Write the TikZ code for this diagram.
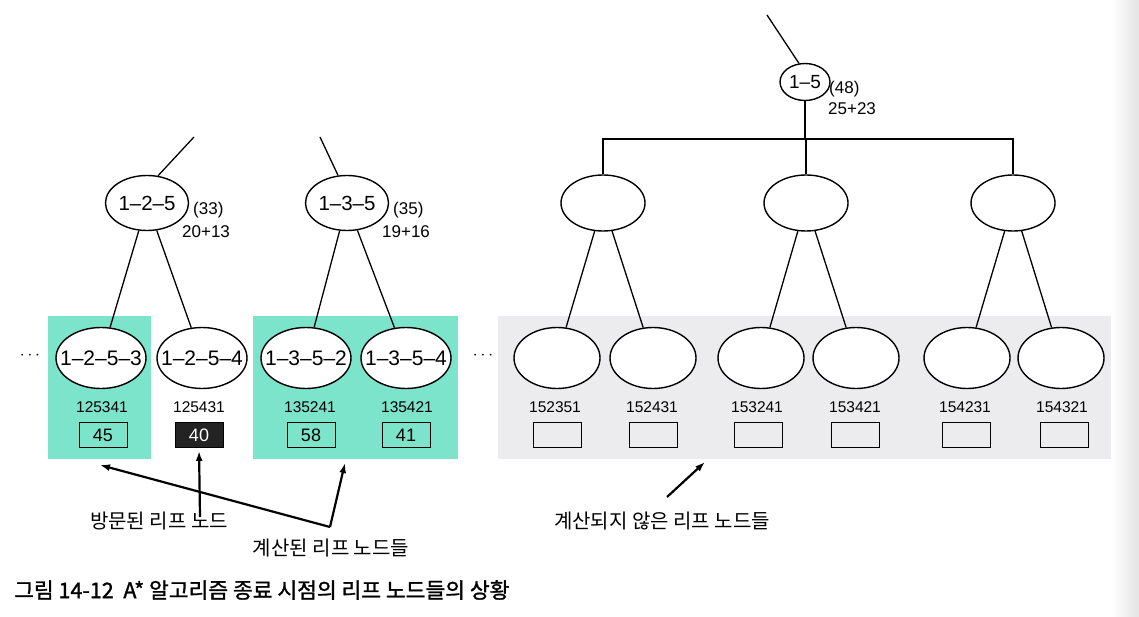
\documentclass[tikz,border=0pt]{standalone}
\usepackage{fontspec}
\setmainfont{Liberation Sans}
\newfontfamily\kr{Noto Sans CJK KR}
\newfontfamily\krb[FakeBold=1.3]{Noto Sans CJK KR}
\usetikzlibrary{shapes.geometric,arrows.meta}
\definecolor{tealbg}{RGB}{125,228,204}
\definecolor{greybg}{RGB}{236,236,239}
\definecolor{darkbox}{RGB}{35,35,35}
\newcommand\zb[1]{\makebox[0pt]{#1}}
\begin{document}
\begin{tikzpicture}[x=1pt,y=-1pt,
  ell/.style={ellipse,draw,line width=1.4pt,fill=white,inner sep=0pt},
  leaf/.style={ell,minimum width=90pt,minimum height=61pt,font=\fontsize{21}{21}\selectfont},
  mid/.style={ell,minimum width=83pt,minimum height=55pt,font=\fontsize{20.5}{20.5}\selectfont},
  eleaf/.style={ell,minimum width=86pt,minimum height=61pt},
  emid/.style={ell,minimum width=84pt,minimum height=56pt},
  edge/.style={line width=1.3pt},
  num/.style={font=\fontsize{15.5}{15.5}\selectfont,inner sep=0pt},
  val/.style={draw,line width=0.9pt,minimum width=48pt,minimum height=25pt,inner sep=0pt,font=\fontsize{18}{18}\selectfont},
  ann/.style={font=\fontsize{17}{17}\selectfont,inner sep=0pt,anchor=west},
  lbl/.style={font=\kr\fontsize{20}{20}\selectfont,inner sep=0pt},
  dots/.style={font=\fontsize{18}{18}\selectfont,inner sep=0pt},
  arr/.style={line width=2.2pt,-{Latex[length=10pt,width=7pt]}}]
\useasboundingbox (0,0) rectangle (1139,617);
\fill[white] (0,0) rectangle (1139,617);
\shade[left color=white,right color=gray!22] (1112,0) rectangle (1139,617);

% background panels
\fill[tealbg] (48,316) rectangle (151,459);
\fill[tealbg] (253,316) rectangle (458,459);
\fill[greybg] (498,316) rectangle (1111,459);

% dots
\node[dots] (d1) at (30,356) {$\cdots$};
\node[dots] (d2) at (483,356) {$\cdots$};

% left subtrees
\node[mid] (b1) at (147,203) {\zb{1–2–5}};
\node[mid] (b2) at (347,203) {\zb{1–3–5}};
\node[ann] (b1f) at (193,210) {(33)};
\node[ann] (b1g) at (182,232) {20+13};
\node[ann] (b2f) at (393,210) {(35)};
\node[ann] (b2g) at (382,232) {19+16};
\coordinate (t1) at (194,137);
\coordinate (t2) at (320,137);
\draw[edge] (t1) -- (b1.68);
\draw[edge] (t2) -- (b2.108);

\node[leaf] (a1) at (101,358) {\zb{1–2–5–3}};
\node[leaf] (a2) at (202,358) {\zb{1–2–5–4}};
\node[leaf] (a3) at (306,358) {\zb{1–3–5–2}};
\node[leaf] (a4) at (406,358) {\zb{1–3–5–4}};
\draw[edge] (b1) -- (a1);
\draw[edge] (b1) -- (a2);
\draw[edge] (b2) -- (a3);
\draw[edge] (b2) -- (a4);

\node[num] (c1) at (102,407) {125341};
\node[num] (c2) at (199,407) {125431};
\node[num] (c3) at (310,407) {135241};
\node[num] (c4) at (407,407) {135421};
\node[val] (v1) at (103,435) {45};
\node[val,fill=darkbox,text=white] (v2) at (199,435) {40};
\node[val] (v3) at (311,435) {58};
\node[val] (v4) at (406,435) {41};

% right subtree
\node[ell,minimum width=50pt,minimum height=37pt,font=\fontsize{19}{19}\selectfont] (r) at (805,82) {\zb{1–5}};
\node[ann] (rf) at (829,89) {(48)};
\node[ann] (rg) at (828,109) {25+23};
\coordinate (rt) at (767,15);
\draw[edge] (rt) -- (r.108);

\node[emid] (m1) at (603,203) {};
\node[emid] (m2) at (806,203) {};
\node[emid] (m3) at (1013,203) {};
\coordinate (bus) at (0,139);
\draw[edge] (r.south) -- (r.south |- bus);
\draw[edge] (m1.north) -- (m1.north |- bus) -- (m3.north |- bus) -- (m3.north);
\draw[edge] (m2.north) -- (m2.north |- bus);

\node[eleaf] (g1) at (557,358) {};
\node[eleaf] (g2) at (653,358) {};
\node[eleaf] (g3) at (761,358) {};
\node[eleaf] (g4) at (856,358) {};
\node[eleaf] (g5) at (967,358) {};
\node[eleaf] (g6) at (1061,358) {};
\draw[edge] (m1) -- (g1);
\draw[edge] (m1) -- (g2);
\draw[edge] (m2) -- (g3);
\draw[edge] (m2) -- (g4);
\draw[edge] (m3) -- (g5);
\draw[edge] (m3) -- (g6);

\node[num] (h1) at (555,407) {152351};
\node[num] (h2) at (652,407) {152431};
\node[num] (h3) at (757,407) {153241};
\node[num] (h4) at (855,407) {153421};
\node[num] (h5) at (965,407) {154231};
\node[num] (h6) at (1062,407) {154321};
\node[val] (w1) at (557,435) {};
\node[val] (w2) at (653,435) {};
\node[val] (w3) at (758,435) {};
\node[val] (w4) at (855,435) {};
\node[val] (w5) at (966,435) {};
\node[val] (w6) at (1064,435) {};

% labels and arrows
\node[lbl] (L1) at (159,521) {방문된 리프 노드};
\node[lbl] (L2) at (331,548) {계산된 리프 노드들};
\node[lbl] (L3) at (662,521) {계산되지 않은 리프 노드들};
\coordinate (k) at (330,527);
\coordinate (k1) at (100,465);
\coordinate (k2) at (345,463);
\coordinate (vs) at (200,517);
\coordinate (us) at (667,497);
\coordinate (ut) at (705,462);
\draw[arr] (k) -- (k1);
\draw[arr] (k) -- (k2);
\draw[arr,shorten >=3pt] (vs) -- (v2.south);
\draw[arr] (us) -- (ut);

% caption
\node[anchor=west,inner sep=0pt,font=\krb\fontsize{21.5}{21.5}\selectfont] (cap) at (14,590) {그림 14-12\ \ A* 알고리즘 종료 시점의 리프 노드들의 상황};
\end{tikzpicture}
\end{document}
